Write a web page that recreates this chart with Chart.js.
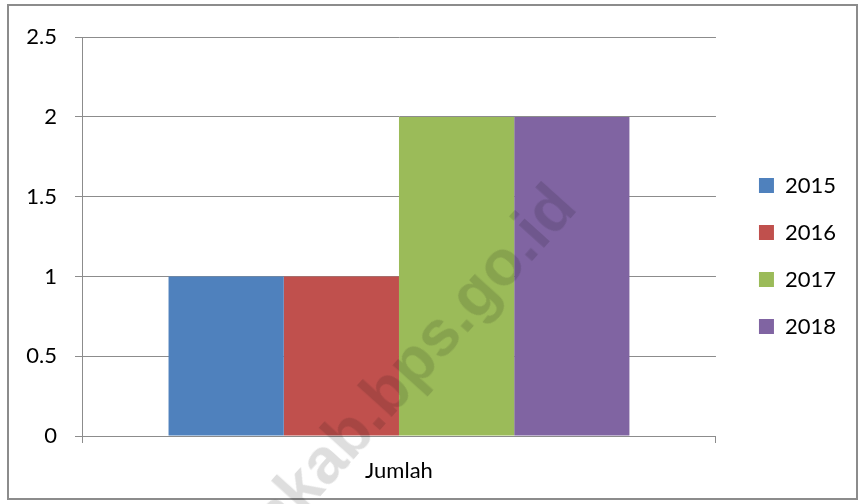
<!DOCTYPE html>
<html lang="id">
<head>
<meta charset="UTF-8">
<title>Jumlah</title>
<script src="https://cdn.jsdelivr.net/npm/chart.js"></script>
<style>
    body { margin: 0; background: #fff; overflow: hidden; }
    .frame {
        position: absolute; left: 7px; top: 4px;
        width: 847px; height: 492px;
        border: 2px solid #8c8c8c;
    }
    .chart-wrap {
        position: absolute; left: 9px; top: 6px;
        width: 837px; height: 492px;
    }
    .watermark {
        position: absolute; left: 233px; top: 505px;
        font-family: "Liberation Sans", Arial, sans-serif;
        font-weight: bold; font-size: 64px;
        color: rgba(0, 0, 0, 0.13);
        transform-origin: 0 0;
        transform: rotate(-48deg);
        white-space: nowrap;
        pointer-events: none;
    }
</style>
</head>
<body>
<div class="frame"></div>
<div class="chart-wrap"><canvas id="chart"></canvas></div>
<div class="watermark">nkab.bps.go.id</div>
<script>
    // data
    const categories = ['Jumlah'];
    const years = ['2015', '2016', '2017', '2018'];
    const values2015 = [1];
    const values2016 = [1];
    const values2017 = [2];
    const values2018 = [2];
    const yTickLabels = ['0', '0.5', '1', '1.5', '2', '2.5'];

    const colors = ['#4f81bd', '#c0504d', '#9bbb59', '#8064a2'];
    const seriesValues = [values2015, values2016, values2017, values2018];
    const lineGray = '#8c8c8c';
    const font = { family: 'Lato, "Open Sans", sans-serif', size: 22 };

    const ctx = document.getElementById('chart').getContext('2d');
    new Chart(ctx, {
        type: 'bar',
        data: {
            labels: categories,
            datasets: years.map((y, i) => ({
                label: y,
                data: seriesValues[i],
                backgroundColor: colors[i],
                borderWidth: 0,
                barPercentage: 1,
                categoryPercentage: 0.727
            }))
        },
        options: {
            responsive: true,
            maintainAspectRatio: false,
            animation: false,
            layout: { padding: { top: 28, left: 0, right: 0, bottom: 20 } },
            scales: {
                x: {
                    grid: { display: true, drawOnChartArea: false, tickLength: 7, color: lineGray, offset: true },
                    border: { color: lineGray },
                    ticks: { color: '#000', font: font, padding: 15 },
                    afterFit: s => { s.height = 42; }
                },
                y: {
                    min: 0, max: 2.5,
                    grid: { color: lineGray, tickLength: 7 },
                    border: { color: lineGray },
                    ticks: {
                        stepSize: 0.5, color: '#000', font: font, padding: 18,
                        callback: (v, i) => yTickLabels[i]
                    },
                    afterFit: s => { s.width = 73; }
                },
                // spacer between plot and legend
                spacer: {
                    position: 'right', display: true,
                    grid: { display: false }, border: { display: false },
                    ticks: { display: false },
                    afterFit: s => { s.width = 18; }
                }
            },
            plugins: {
                legend: {
                    position: 'right',
                    labels: { color: '#000', font: font, boxWidth: 15, boxHeight: 15, padding: 25 }
                },
                tooltip: { enabled: false }
            }
        }
    });
</script>
</body>
</html>
